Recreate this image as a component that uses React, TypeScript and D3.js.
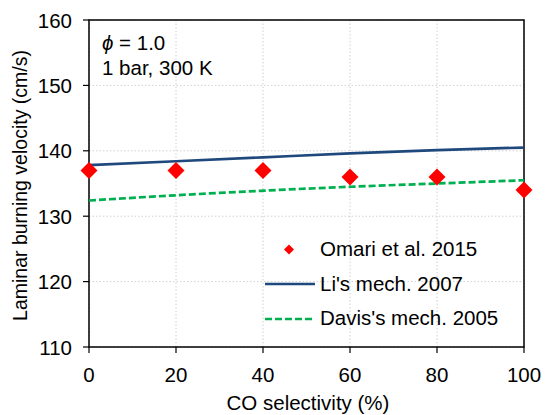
import React from "react";
import * as d3 from "d3";

const xTicks = [0, 20, 40, 60, 80, 100];
const yTicks = [110, 120, 130, 140, 150, 160];
const omariX = [0, 20, 40, 60, 80, 100];
const omariY = [137, 137, 137, 136, 136, 134];
const liX = [0, 20, 40, 60, 80, 100];
const liY = [137.8, 138.4, 139.0, 139.6, 140.1, 140.5];
const davisX = [0, 20, 40, 60, 80, 100];
const davisY = [132.4, 133.2, 133.9, 134.5, 135.0, 135.5];
const legendLabels = ["Omari et al. 2015", "Li's mech. 2007", "Davis's mech. 2005"];

const W = 545, H = 415;
const M = { left: 89, right: 524, top: 20, bottom: 347 };
const font = "Liberation Sans, Arial, sans-serif";

export default function App() {
  const x = d3.scaleLinear().domain([0, 100]).range([M.left, M.right]);
  const y = d3.scaleLinear().domain([110, 160]).range([M.bottom, M.top]);
  const mk = (xs: number[], ys: number[]) =>
    d3.line<number>().x((d) => x(d)).y((_, i) => y(ys[i])).curve(d3.curveMonotoneX)(xs) || "";
  const diamond = (cx: number, cy: number, r: number) =>
    `M${cx},${cy - r}L${cx + r},${cy}L${cx},${cy + r}L${cx - r},${cy}Z`;
  return (
    <svg width={W} height={H} style={{ position: "absolute", left: 0, top: 0, background: "#fff" }}>
      <rect width={W} height={H} fill="#fff" />
      {xTicks.map((t) => (
        <line key={"gx" + t} x1={x(t)} x2={x(t)} y1={M.top} y2={M.bottom} stroke="#d0d0d0" strokeDasharray="1.5,2" />
      ))}
      {yTicks.map((t) => (
        <line key={"gy" + t} x1={M.left} x2={M.right} y1={y(t)} y2={y(t)} stroke="#d0d0d0" strokeDasharray="1.5,2" />
      ))}
      <rect x={M.left} y={M.top} width={M.right - M.left} height={M.bottom - M.top} fill="none" stroke="#000" strokeWidth={1.5} />
      {xTicks.map((t) => (
        <g key={"tx" + t}>
          <line x1={x(t)} x2={x(t)} y1={M.bottom} y2={M.bottom + 6} stroke="#000" strokeWidth={1.2} />
          <text x={x(t)} y={M.bottom + 35} textAnchor="middle" fontFamily={font} fontSize={20.5} fill="#000">{t}</text>
        </g>
      ))}
      {yTicks.map((t) => (
        <g key={"ty" + t}>
          <line x1={M.left - 6} x2={M.left} y1={y(t)} y2={y(t)} stroke="#000" strokeWidth={1.2} />
          <text x={M.left - 17} y={y(t) + 7.5} textAnchor="end" fontFamily={font} fontSize={20.5} fill="#000">{t}</text>
        </g>
      ))}
      <path d={mk(davisX, davisY)} fill="none" stroke="#00b050" strokeWidth={2.7} strokeDasharray="7,3" />
      <path d={mk(liX, liY)} fill="none" stroke="#1f497d" strokeWidth={2.7} />
      {omariX.map((v, i) => (
        <path key={"o" + i} d={diamond(x(v), y(omariY[i]), 8.5)} fill="#ff0000" />
      ))}
      <text x={102} y={50} fontFamily={font} fontSize={20.5} fill="#000"><tspan fontStyle="italic">ϕ</tspan> = 1.0</text>
      <text x={102} y={75} fontFamily={font} fontSize={20.5} fill="#000">1 bar, 300 K</text>
      <path d={diamond(289, 249.5, 5)} fill="#ff0000" />
      <line x1={265} x2={315} y1={284} y2={284} stroke="#1f497d" strokeWidth={2.7} />
      <line x1={265} x2={315} y1={319} y2={319} stroke="#00b050" strokeWidth={2.7} strokeDasharray="7,3" />
      {legendLabels.map((l, i) => (
        <text key={l} x={320} y={256 + i * 34.5} fontFamily={font} fontSize={20.5} fill="#000">{l}</text>
      ))}
      <text x={308} y={410} textAnchor="middle" fontFamily={font} fontSize={20.5} fill="#000">CO selectivity (%)</text>
      <text transform={`translate(27,185.5) rotate(-90)`} textAnchor="middle" fontFamily={font} fontSize={19.5} fill="#000">Laminar burning velocity (cm/s)</text>
    </svg>
  );
}
